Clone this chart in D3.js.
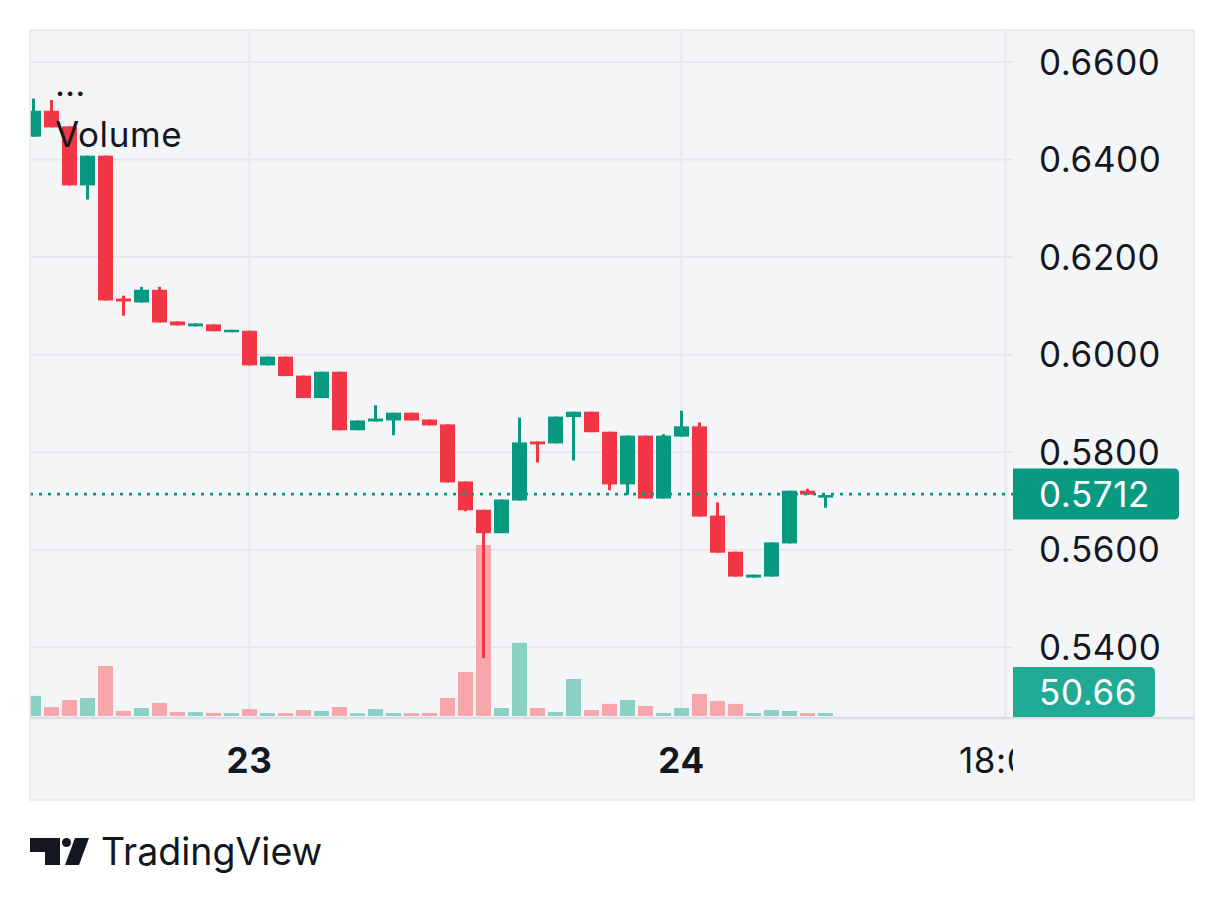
<!DOCTYPE html>
<html>
<head>
<meta charset="utf-8">
<script src="https://cdn.jsdelivr.net/npm/d3@7"></script>
<style>
  html, body { margin: 0; padding: 0; background: #ffffff; }
  svg { display: block; font-family: Inter, "Noto Sans", Roboto, sans-serif; }
</style>
</head>
<body>
<svg id="chart" width="1224" height="906"></svg>
<script>
// ---- data (hourly candles, 22nd 12:00 -> 24th 08:00) ----
const startTime = new Date(2024, 0, 22, 12, 0);
const opens  = [0.6447,0.6500,0.6468,0.6347,0.6408,0.6115,0.6107,0.6133,0.6068,0.6058,0.6062,0.6046,0.6049,0.5978,0.5996,0.5957,0.5911,0.5965,0.5845,0.5863,0.5865,0.5881,0.5867,0.5857,0.5740,0.5682,0.5634,0.5701,0.5822,0.5818,0.5872,0.5883,0.5842,0.5734,0.5834,0.5705,0.5832,0.5853,0.5670,0.5596,0.5543,0.5545,0.5613,0.5721,0.5708];
const highs  = [0.6525,0.6522,0.6468,0.6408,0.6408,0.6121,0.6139,0.6139,0.6068,0.6064,0.6062,0.6051,0.6049,0.5996,0.5996,0.5957,0.5965,0.5965,0.5865,0.5896,0.5881,0.5881,0.5867,0.5857,0.5740,0.5682,0.5703,0.5871,0.5822,0.5873,0.5883,0.5883,0.5842,0.5834,0.5834,0.5837,0.5885,0.5861,0.5697,0.5596,0.5549,0.5615,0.5721,0.5725,0.5712];
const lows   = [0.6447,0.6466,0.6347,0.6318,0.6111,0.6080,0.6107,0.6066,0.6060,0.6058,0.6048,0.6046,0.5978,0.5978,0.5956,0.5911,0.5911,0.5845,0.5845,0.5863,0.5835,0.5865,0.5855,0.5738,0.5679,0.5378,0.5634,0.5701,0.5779,0.5818,0.5783,0.5841,0.5722,0.5712,0.5705,0.5705,0.5832,0.5668,0.5594,0.5545,0.5543,0.5545,0.5613,0.5713,0.5686];
const closes = [0.6500,0.6466,0.6347,0.6408,0.6111,0.6109,0.6133,0.6066,0.6060,0.6064,0.6048,0.6051,0.5978,0.5996,0.5956,0.5911,0.5965,0.5845,0.5865,0.5869,0.5881,0.5865,0.5855,0.5738,0.5681,0.5634,0.5703,0.5820,0.5816,0.5873,0.5883,0.5841,0.5734,0.5834,0.5705,0.5834,0.5853,0.5668,0.5594,0.5545,0.5549,0.5615,0.5721,0.5713,0.5712];
const volumes = [340,150,270,305,845,85,135,220,68,66,52,48,118,50,49,100,85,152,47,118,50,46,52,305,745,2890,135,1235,135,68,625,100,205,270,170,52,135,372,255,205,50,100,85,48,50.66];
const priceTicks = [0.54,0.56,0.58,0.60,0.62,0.64,0.66];
const timeTicks = [new Date(2024,0,23,0,0), new Date(2024,0,24,0,0), new Date(2024,0,24,18,0)];
const timeTickLabels = ["23","24","18:00"];
const timeTickBold = [true,true,false];
const lastPriceLabel = "0.5712";
const lastVolumeLabel = "50.66";
const legendTitle = "...";
const legendVolume = "Volume";
const brandText = "TradingView";

// ---- styles ----
const UP = "#089981", DOWN = "#f23645";
const UP_VOL = "#8ad0c5", DOWN_VOL = "#f7a6ac";
const TEXT = "#131722";
const BG = "#f4f5f7", GRID = "#e6e7eb", SEP = "#dcdee5", BORDER = "#e6e8ec";
const FS = 35, LS = 0.6;

const panel = {x0: 30, y0: 30, x1: 1194, y1: 800};
const pane = {x0: 30, x1: 1013, y0: 30, y1: 717};

const svg = d3.select("#chart");

const candles = opens.map((o, i) => ({
  t: d3.timeHour.offset(startTime, i),
  o, h: highs[i], l: lows[i], c: closes[i], v: volumes[i]
}));

const x = d3.scaleTime()
  .domain([startTime, new Date(2024,0,24,18,0)])
  .range([33.5, 1005.5]);
const y = d3.scaleLinear().domain([0.54, 0.66]).range([647.3, 62]);
const yv = d3.scaleLinear().domain([0, d3.max(volumes)]).range([716, 545]);

// panel background
svg.append("rect").attr("x", panel.x0).attr("y", panel.y0)
  .attr("width", panel.x1 - panel.x0).attr("height", panel.y1 - panel.y0)
  .attr("fill", BG).attr("stroke", BORDER).attr("stroke-width", 1.5);

const defs = svg.append("defs");
defs.append("clipPath").attr("id", "paneClip").append("rect")
  .attr("x", pane.x0 + 0.75).attr("y", pane.y0).attr("width", pane.x1 - pane.x0 - 0.75).attr("height", pane.y1 - pane.y0);
defs.append("clipPath").attr("id", "timeClip").append("rect")
  .attr("x", pane.x0).attr("y", pane.y1).attr("width", pane.x1 - pane.x0).attr("height", panel.y1 - pane.y1);

const g = svg.append("g").attr("clip-path", "url(#paneClip)");

// grid
g.selectAll("line.hgrid").data(priceTicks).join("line")
  .attr("x1", pane.x0).attr("x2", pane.x1)
  .attr("y1", d => y(d)).attr("y2", d => y(d))
  .attr("stroke", GRID).attr("stroke-width", 2);
g.selectAll("line.vgrid").data(timeTicks).join("line")
  .attr("x1", d => x(d)).attr("x2", d => x(d))
  .attr("y1", pane.y0).attr("y2", pane.y1)
  .attr("stroke", GRID).attr("stroke-width", 2);

// volume bars
g.selectAll("rect.vol").data(candles).join("rect")
  .attr("x", d => x(d.t) - 7.5).attr("width", 15)
  .attr("y", d => yv(d.v)).attr("height", d => 716 - yv(d.v))
  .attr("fill", d => d.c >= d.o ? UP_VOL : DOWN_VOL);

// wicks
g.selectAll("rect.wick").data(candles).join("rect")
  .attr("x", d => x(d.t) - 1.5).attr("width", 3)
  .attr("y", d => y(d.h)).attr("height", d => Math.max(1, y(d.l) - y(d.h)))
  .attr("fill", d => d.c >= d.o ? UP : DOWN);

// bodies
g.selectAll("rect.body").data(candles).join("rect")
  .attr("x", d => x(d.t) - 7.5).attr("width", 15)
  .attr("y", d => y(Math.max(d.o, d.c)))
  .attr("height", d => Math.max(2.5, Math.abs(y(d.o) - y(d.c))))
  .attr("fill", d => d.c >= d.o ? UP : DOWN);

// last price dotted line
const lastC = candles[candles.length - 1];
g.append("line")
  .attr("x1", pane.x0).attr("x2", pane.x1)
  .attr("y1", y(lastC.c) - 1).attr("y2", y(lastC.c) - 1)
  .attr("stroke", UP).attr("stroke-width", 2.7)
  .attr("stroke-dasharray", "3 6");

// legend
svg.append("text").attr("x", 55).attr("y", 96).attr("font-size", FS).attr("fill", TEXT).text(legendTitle);
svg.append("text").attr("x", 55).attr("y", 147).attr("font-size", FS).attr("letter-spacing", LS).attr("fill", TEXT).text(legendVolume);

// separator
svg.append("line").attr("x1", panel.x0).attr("x2", panel.x1)
  .attr("y1", 718).attr("y2", 718).attr("stroke", SEP).attr("stroke-width", 2.5);

// price axis labels
svg.selectAll("text.ptick").data(priceTicks).join("text")
  .attr("x", 1039).attr("y", d => y(d) + 12.5)
  .attr("font-size", FS).attr("letter-spacing", LS).attr("fill", TEXT)
  .text(d => d3.format(".4f")(d));

// label boxes
function rightRounded(x0, y0, w, h, r) {
  return `M${x0},${y0} H${x0 + w - r} Q${x0 + w},${y0} ${x0 + w},${y0 + r} V${y0 + h - r} Q${x0 + w},${y0 + h} ${x0 + w - r},${y0 + h} H${x0} Z`;
}
const yl = y(lastC.c) - 1;
svg.append("path").attr("d", rightRounded(1013, yl - 25.5, 166, 51, 5)).attr("fill", UP);
svg.append("text").attr("x", 1039).attr("y", yl + 12.5).attr("font-size", FS).attr("letter-spacing", LS).attr("fill", "#ffffff").text(lastPriceLabel);

svg.append("path").attr("d", rightRounded(1013, 667, 142, 50, 5)).attr("fill", "#22ab94");
svg.append("text").attr("x", 1039).attr("y", 704.5).attr("font-size", FS).attr("letter-spacing", LS).attr("fill", "#ffffff").text(lastVolumeLabel);

// time axis labels
svg.append("g").attr("clip-path", "url(#timeClip)")
  .selectAll("text").data(timeTicks).join("text")
  .attr("x", d => x(d)).attr("y", 773).attr("text-anchor", "middle")
  .attr("font-size", FS).attr("letter-spacing", LS).attr("fill", TEXT)
  .attr("font-weight", (d, i) => timeTickBold[i] ? 700 : 400)
  .text((d, i) => timeTickLabels[i]);

// TradingView logo
const logo = svg.append("g").attr("fill", TEXT);
logo.append("path").attr("d", "M30,838 H60 V865 H45 V852 H30 Z");
logo.append("circle").attr("cx", 66.5).attr("cy", 842.5).attr("r", 4.5);
logo.append("path").attr("d", "M75,838 H89 L79,865 H65 Z");
svg.append("text").attr("x", 101).attr("y", 865).attr("font-size", 37.5).attr("fill", TEXT).text(brandText);
</script>
</body>
</html>
